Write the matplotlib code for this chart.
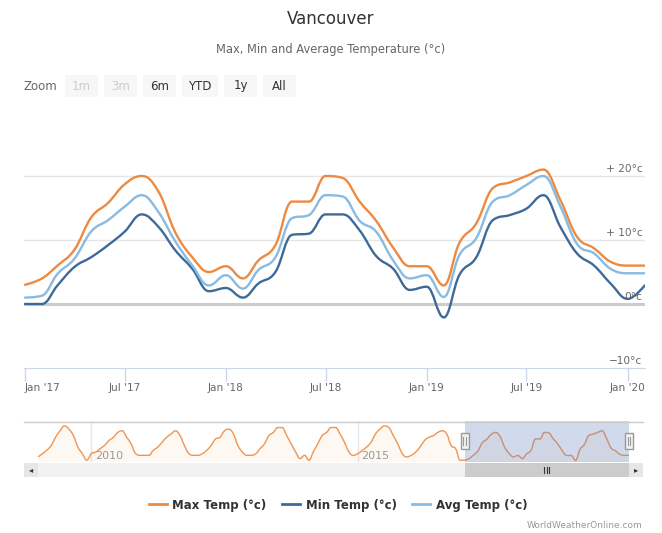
import datetime as dt
import matplotlib
matplotlib.use('Agg')
import matplotlib.pyplot as plt
import matplotlib.dates as mdates
import matplotlib.transforms as mtransforms
import pandas as pd
from matplotlib.path import Path
from matplotlib.patches import PathPatch, Rectangle
from matplotlib.lines import Line2D

W, H = 662, 533

# monthly values, Jan 2017 .. Feb 2020
months = pd.date_range('2017-01-01', periods=38, freq='MS')
max_temp = [3, 4, 6, 8.5, 13.5, 15.8, 18.7, 20, 17.5, 11.2, 7.3, 5,
            5.9, 4, 6.8, 9.2, 16, 16, 20, 19.7, 16, 13, 8.8, 5.9,
            5.9, 2.9, 9.5, 12.6, 18.1, 19, 20, 21, 16.2, 10.5, 8.7, 6.6,
            6, 6]
min_temp = [0, 0, 2.9, 5.8, 7.3, 9.2, 11.3, 14, 12, 8.4, 5.5, 2,
            2.5, 1, 3.2, 5, 10.8, 11, 14, 14, 11.5, 7.5, 5.5, 2.2,
            2.7, -2.1, 4.5, 7.3, 13.1, 13.9, 14.9, 17, 12, 7.9, 6, 3.2,
            0.8, 2.9]
avg_temp = [1, 1.3, 4.7, 7.1, 11.3, 13.1, 15.2, 17, 14.3, 9.8, 6, 2.9,
            4.5, 2.4, 5.3, 7.3, 13.4, 13.9, 17, 16.8, 13, 11.3, 6.8, 4,
            4.5, 1.1, 7.6, 10.3, 16, 17, 18.6, 20, 15.2, 9.4, 7.9, 5.5,
            4.8, 4.8]

# navigator: max temp, Jan 2009 .. Dec 2016 (then the series above)
nav_months = pd.date_range('2009-01-01', periods=134, freq='MS')
nav_max_early = [5, 7, 9, 12, 17, 21, 24, 22, 18, 11, 7, 3,
                 7, 8, 10, 12, 15, 17, 20, 21, 17, 13, 7, 6,
                 6, 6, 9, 11, 14, 17, 19, 21, 18, 12, 7, 6,
                 6, 7, 9, 12, 16, 17, 21, 22, 19, 12, 8, 6,
                 6, 7, 10, 13, 18, 20, 23, 23, 18, 13, 8, 4,
                 6, 3, 8, 13, 18, 20, 23, 23, 19, 14, 8, 6,
                 7, 9, 11, 14, 19, 22, 24, 23, 18, 13, 7, 5,
                 6, 8, 11, 15, 17, 18, 20, 21, 19, 12, 10, 3]
nav_years = ['2010', '2015']

series_names = ['Max Temp (°c)', 'Min Temp (°c)', 'Avg Temp (°c)']
colors = ['#ee8a40', '#3e6a9a', '#88bbe2']

xtick_dates = pd.date_range('2017-01-01', periods=7, freq='6MS')
xtick_labels = ["Jan '17", "Jul '17", "Jan '18", "Jul '18", "Jan '19", "Jul '19", "Jan '20"]
ytick_vals = [-10, 0, 10, 20]
ytick_labels = ['\u221210°c', '0°c', '+ 10°c', '+ 20°c']

zoom_buttons = ['1m', '3m', '6m', 'YTD', '1y', 'All']
zoom_enabled = [False, False, True, True, True, True]


def fx(px):
    return px / W


def fy(py):
    return 1 - py / H


def spline_path(x, y, base=None):
    # highcharts style spline (smoothing 1.5)
    n = len(x)
    lc = [(x[i], y[i]) for i in range(n)]
    rc = list(lc)
    s = 1.5
    d = s + 1
    for i in range(1, n - 1):
        lcx = (s * x[i] + x[i - 1]) / d
        lcy = (s * y[i] + y[i - 1]) / d
        rcx = (s * x[i] + x[i + 1]) / d
        rcy = (s * y[i] + y[i + 1]) / d
        if rcx != lcx:
            corr = ((rcy - lcy) * (rcx - x[i])) / (rcx - lcx) + y[i] - rcy
            lcy += corr
            rcy += corr
        if lcy > y[i - 1] and lcy > y[i]:
            lcy = max(y[i - 1], y[i])
            rcy = 2 * y[i] - lcy
        elif lcy < y[i - 1] and lcy < y[i]:
            lcy = min(y[i - 1], y[i])
            rcy = 2 * y[i] - lcy
        if rcy > y[i + 1] and rcy > y[i]:
            rcy = max(y[i + 1], y[i])
            lcy = 2 * y[i] - rcy
        elif rcy < y[i + 1] and rcy < y[i]:
            rcy = min(y[i + 1], y[i])
            lcy = 2 * y[i] - rcy
        lc[i] = (lcx, lcy)
        rc[i] = (rcx, rcy)
    verts = [(x[0], y[0])]
    codes = [Path.MOVETO]
    for i in range(1, n):
        verts += [rc[i - 1], lc[i], (x[i], y[i])]
        codes += [Path.CURVE4] * 3
    if base is not None:
        verts += [(x[-1], base), (x[0], base), (x[0], y[0])]
        codes += [Path.LINETO, Path.LINETO, Path.CLOSEPOLY]
    return Path(verts, codes)


fig = plt.figure(figsize=(W / 100, H / 100), dpi=100)
fig.patch.set_facecolor('white')

fig.text(0.5, fy(19), 'Vancouver', ha='center', va='center', fontsize=12, color='#333333')
fig.text(0.5, fy(49), 'Max, Min and Average Temperature (°c)', ha='center', va='center',
         fontsize=8.3, color='#666666')

# main chart
ax = fig.add_axes([fx(24), fy(368), 621 / W, 224 / H])
xm = mdates.date2num(months.to_pydatetime())
ax.set_xlim(xm[0] - 1.8, xm[-1] + 0.5)
ax.set_ylim(-10, 25)
for v in ytick_vals[2:]:
    ax.axhline(v, color='#e6e6e6', lw=1, zorder=0)
ax.axhline(0, color='#cccccc', lw=2.2, zorder=0)
for vals, c in zip([max_temp, min_temp, avg_temp], colors):
    ax.add_patch(PathPatch(spline_path(xm, vals), fill=False, edgecolor=c, lw=1.7,
                           capstyle='round', joinstyle='round', zorder=3))
for side in ['top', 'left', 'right']:
    ax.spines[side].set_visible(False)
ax.spines['bottom'].set_color('#ccd6eb')
ax.set_yticks([])
ax.set_xticks(mdates.date2num(xtick_dates.to_pydatetime()))
ax.set_xticklabels(xtick_labels)
ax.tick_params(axis='x', length=9, width=1, color='#ccd6eb', labelsize=7.6,
               labelcolor='#666666', pad=2)
ax.get_xticklabels()[0].set_ha('left')
ax.set_facecolor('none')
trans = mtransforms.blended_transform_factory(ax.transAxes, ax.transData)
for v, lab in zip(ytick_vals, ytick_labels):
    ax.text(0.996, v + 0.35, lab, transform=trans, ha='right', va='bottom',
            fontsize=7.6, color='#666666', zorder=4)

# navigator
nav = fig.add_axes([fx(38), fy(462), 591 / W, 41 / H])
xn = mdates.date2num(nav_months.to_pydatetime())
nav_vals = nav_max_early + max_temp
lo, hi = min(nav_vals), max(nav_vals)
nav.set_xlim(xn[0], xn[-1])
nav.set_ylim(lo - 1, hi + 3)
nav.add_patch(PathPatch(spline_path(xn, nav_vals, base=lo - 1), facecolor=colors[0],
                        alpha=0.06, lw=0))
nav.add_patch(PathPatch(spline_path(xn, nav_vals), fill=False, edgecolor=colors[0], lw=1,
                        alpha=0.9))
for yr in nav_years:
    xd = mdates.date2num(dt.datetime(int(yr), 1, 1))
    nav.axvline(xd, color='#e6e6e6', lw=1, zorder=0)
    nav.text(xd + 25, lo - 0.6, yr, ha='left', va='bottom', fontsize=8, color='#999999')
sel0 = mdates.date2num(dt.datetime(2017, 1, 1))
nav.axvspan(sel0, xn[-1], color=(102 / 255, 133 / 255, 194 / 255, 0.3), lw=0)
nav.axis('off')

# overlay in pixel coords for buttons, scrollbar, handles
ov = fig.add_axes([0, 0, 1, 1])
ov.set_xlim(0, W)
ov.set_ylim(H, 0)
ov.axis('off')
ov.patch.set_visible(False)

ov.text(24, 86, 'Zoom', ha='left', va='center', fontsize=8.5, color='#666666')
bx = 65
for lab, en in zip(zoom_buttons, zoom_enabled):
    bw = 36 if lab == 'YTD' else 33
    ov.add_patch(Rectangle((bx, 75), bw, 22, facecolor='#f7f7f7', edgecolor='none'))
    ov.text(bx + bw / 2, 86, lab, ha='center', va='center', fontsize=8.5,
            color='#333333' if en else '#cccccc')
    bx += bw + 6

ov.plot([24, 643], [421.5, 421.5], color='#cccccc', lw=1)


def nav_px(xd):
    return nav.transData.transform((xd, 0))[0]


p0 = nav_px(sel0)
p1 = nav_px(xn[-1])
# scrollbar
ov.add_patch(Rectangle((24, 463), 619, 14, facecolor='#f2f2f2', edgecolor='none'))
ov.add_patch(Rectangle((24, 463), 14, 14, facecolor='#e6e6e6', edgecolor='none'))
ov.add_patch(Rectangle((629, 463), 14, 14, facecolor='#e6e6e6', edgecolor='none'))
ov.text(31, 470, '\u25c2', ha='center', va='center', fontsize=6, color='#333333')
ov.text(636, 470, '\u25b8', ha='center', va='center', fontsize=6, color='#333333')
ov.add_patch(Rectangle((p0, 463), p1 - p0, 14, facecolor='#cccccc', edgecolor='none'))
gx = (p0 + p1) / 2
for dx in (-2.5, 0, 2.5):
    ov.plot([gx + dx, gx + dx], [467, 473], color='#333333', lw=0.8)
# handles
for px in (p0, p1):
    ov.add_patch(Rectangle((px - 4, 433), 8, 16, facecolor='#f2f2f2', edgecolor='#999999', lw=1))
    for dx in (-1.2, 1.2):
        ov.plot([px + dx, px + dx], [437, 445], color='#999999', lw=0.8)

# legend
handles = [Line2D([], [], color=c, lw=2) for c in colors]
fig.legend(handles, series_names, loc='center', bbox_to_anchor=(fx(338), fy(505)), ncol=3,
           frameon=False, prop={'weight': 'bold', 'size': 8.5}, handlelength=1.5,
           handletextpad=0.5, columnspacing=1.3, labelcolor='#333333')
fig.text(fx(642), fy(526), 'WorldWeatherOnline.com', ha='right', va='center', fontsize=6.5,
         color='#999999')

fig.savefig('out.png', dpi=100)
